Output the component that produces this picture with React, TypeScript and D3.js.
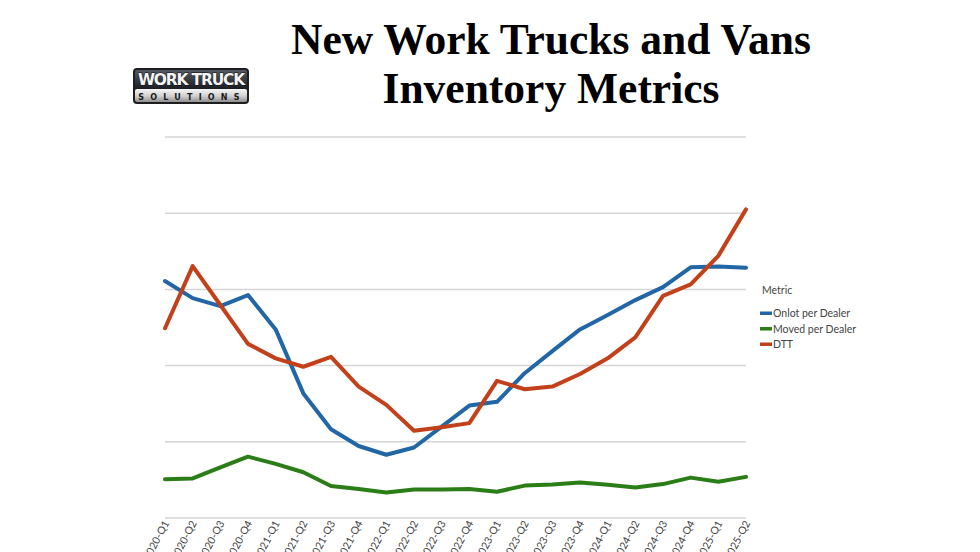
import React, { useRef, useEffect } from 'react';
import { select, scaleLinear, scalePoint, line, axisBottom } from 'd3';

const quarters = [
  '2020-Q1', '2020-Q2', '2020-Q3', '2020-Q4',
  '2021-Q1', '2021-Q2', '2021-Q3', '2021-Q4',
  '2022-Q1', '2022-Q2', '2022-Q3', '2022-Q4',
  '2023-Q1', '2023-Q2', '2023-Q3', '2023-Q4',
  '2024-Q1', '2024-Q2', '2024-Q3', '2024-Q4',
  '2025-Q1', '2025-Q2',
];

const onlotPerDealer = [
  62.2, 57.7, 55.6, 58.5, 49.5, 32.7, 23.3, 18.9, 16.6, 18.5, 24.0,
  29.5, 30.5, 38.0, 43.8, 49.5, 53.3, 57.2, 60.6, 65.8, 66.0, 65.7,
];
const movedPerDealer = [
  10.2, 10.4, 13.3, 16.1, 14.2, 12.0, 8.4, 7.6, 6.7, 7.5, 7.5,
  7.6, 6.9, 8.5, 8.8, 9.3, 8.7, 8.0, 8.9, 10.6, 9.5, 10.8,
];
const dtt = [
  49.8, 66.1, 55.9, 45.7, 41.9, 39.7, 42.3, 34.5, 29.7, 22.9, 23.8,
  24.9, 36.0, 33.8, 34.5, 37.8, 41.9, 47.4, 58.3, 61.3, 68.8, 81.0,
];

const yTicks = [0, 20, 40, 60, 80, 100];

const seriesNames = ['Onlot per Dealer', 'Moved per Dealer', 'DTT'];
const seriesData = [onlotPerDealer, movedPerDealer, dtt];
const seriesColors = ['#2266a6', '#2b7d17', '#c2401a'];

const dims = {
  width: 980,
  height: 552,
  left: 165,
  right: 746,
  top: 137,
  bottom: 518,
};

const App = () => {
  const svgRef = useRef<SVGSVGElement>(null);

  useEffect(() => {
    const svg = select(svgRef.current);
    svg.selectAll('*').remove();

    const x = scalePoint<string>()
      .domain(quarters)
      .range([dims.left, dims.right]);
    const y = scaleLinear()
      .domain([0, 100])
      .range([dims.bottom, dims.top]);

    // logo
    const defs = svg.append('defs');
    const silver = defs
      .append('linearGradient')
      .attr('id', 'silver')
      .attr('x1', 0)
      .attr('y1', 0)
      .attr('x2', 0)
      .attr('y2', 1);
    silver.append('stop').attr('offset', '0%').attr('stop-color', '#f6f6f6');
    silver.append('stop').attr('offset', '55%').attr('stop-color', '#cfcfcf');
    silver.append('stop').attr('offset', '100%').attr('stop-color', '#8e8e8e');
    const dark = defs
      .append('linearGradient')
      .attr('id', 'dark')
      .attr('x1', 0)
      .attr('y1', 0)
      .attr('x2', 0)
      .attr('y2', 1);
    dark.append('stop').attr('offset', '0%').attr('stop-color', '#555a63');
    dark.append('stop').attr('offset', '100%').attr('stop-color', '#1a1d22');

    const logo = svg.append('g').attr('transform', 'translate(133,68)');
    logo
      .append('rect')
      .attr('width', 116)
      .attr('height', 36)
      .attr('rx', 4)
      .attr('fill', '#1e1e1e');
    logo
      .append('rect')
      .attr('x', 2)
      .attr('y', 2)
      .attr('width', 112)
      .attr('height', 19)
      .attr('rx', 2)
      .attr('fill', 'url(#dark)');
    logo
      .append('rect')
      .attr('x', 2)
      .attr('y', 21)
      .attr('width', 112)
      .attr('height', 13)
      .attr('rx', 2)
      .attr('fill', 'url(#silver)');
    logo
      .append('text')
      .attr('x', 58)
      .attr('y', 17)
      .attr('text-anchor', 'middle')
      .attr('font-family', '"DejaVu Sans"')
      .attr('font-weight', 'bold')
      .attr('font-size', 15.5)
      .attr('letter-spacing', -1.2)
      .attr('fill', '#f4f4f4')
      .attr('stroke', '#0d0d0d')
      .attr('stroke-width', 0.8)
      .attr('paint-order', 'stroke')
      .text('WORK TRUCK');
    logo
      .append('text')
      .attr('x', 59)
      .attr('y', 31.5)
      .attr('text-anchor', 'middle')
      .attr('font-family', '"DejaVu Sans"')
      .attr('font-weight', 'bold')
      .attr('font-size', 8)
      .attr('letter-spacing', 6.2)
      .attr('fill', '#1a1a1a')
      .text('SOLUTIONS');

    // title
    const title = svg
      .append('text')
      .attr('text-anchor', 'middle')
      .attr('font-family', '"Liberation Serif", serif')
      .attr('font-weight', 'bold')
      .attr('font-size', 43.5)
      .attr('fill', '#000');
    title.append('tspan').attr('x', 551).attr('y', 54).text('New Work Trucks and Vans');
    title.append('tspan').attr('x', 551).attr('y', 103).text('Inventory Metrics');

    // gridlines
    svg
      .append('g')
      .selectAll('line')
      .data(yTicks)
      .join('line')
      .attr('x1', dims.left)
      .attr('x2', dims.right)
      .attr('y1', (d) => y(d))
      .attr('y2', (d) => y(d))
      .attr('stroke', '#d6d6d6')
      .attr('stroke-width', 1.5);

    // x axis
    const xAxisGroup = svg
      .append('g')
      .attr('transform', `translate(0,${dims.bottom})`)
      .call(axisBottom(x).tickSize(0).tickPadding(0));
    xAxisGroup.select('.domain').remove();
    xAxisGroup
      .selectAll('text')
      .attr('font-family', 'Lato, "Open Sans", sans-serif')
      .attr('font-size', 10.5)
      .attr('fill', '#444')
      .attr('text-anchor', 'end')
      .attr('dy', 0)
      .attr('transform', 'translate(4,5) rotate(-62)');

    // lines
    const myLine = line<number>()
      .x((_, i) => x(quarters[i]) as number)
      .y((d) => y(d));

    svg
      .append('g')
      .selectAll('path')
      .data(seriesData)
      .join('path')
      .attr('d', (d) => myLine(d))
      .attr('fill', 'none')
      .attr('stroke', (_, i) => seriesColors[i])
      .attr('stroke-width', 4)
      .attr('stroke-linejoin', 'round')
      .attr('stroke-linecap', 'round');

    // legend
    const legend = svg
      .append('g')
      .attr('font-family', 'Lato, "Open Sans", sans-serif')
      .attr('font-size', 10.5)
      .attr('fill', '#444');
    legend.append('text').attr('x', 762).attr('y', 294).text('Metric');
    const items = legend
      .selectAll('g.item')
      .data(seriesNames)
      .join('g')
      .attr('class', 'item')
      .attr('transform', (_, i) => `translate(760,${313 + i * 15.5})`);
    items
      .append('rect')
      .attr('x', 0)
      .attr('y', -1.5)
      .attr('width', 12)
      .attr('height', 3.5)
      .attr('fill', (_, i) => seriesColors[i]);
    items
      .append('text')
      .attr('x', 13)
      .attr('y', 4)
      .text((d) => d);
  }, []);

  return (
    <svg
      ref={svgRef}
      width={dims.width}
      height={dims.height}
      style={{ position: 'absolute', left: 0, top: 0, background: '#fff' }}
    ></svg>
  );
};

export default App;
